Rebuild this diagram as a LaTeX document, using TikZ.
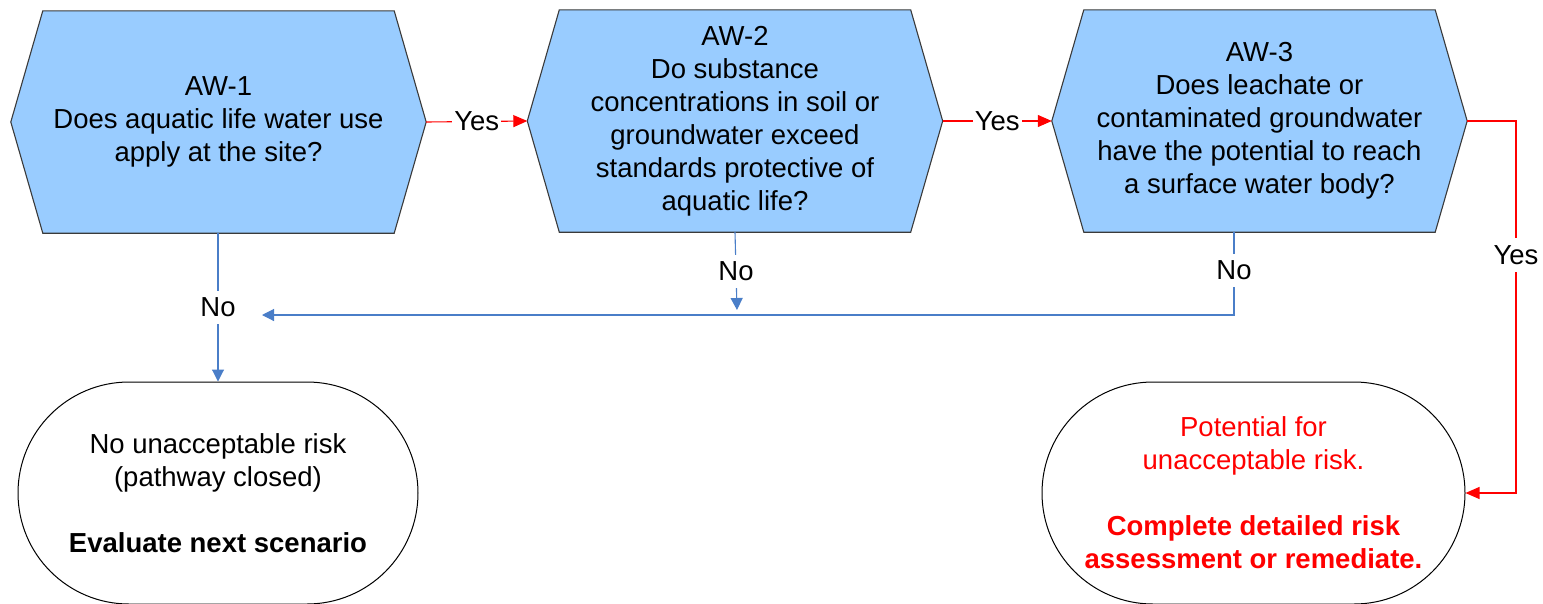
\documentclass[tikz,border=0pt]{standalone}
\usepackage{fontspec}
\setmainfont{Liberation Sans}
\usetikzlibrary{arrows.meta,backgrounds}
\definecolor{hexfill}{HTML}{99CCFF}
\definecolor{hexedge}{HTML}{3A3A3A}
\definecolor{noblue}{HTML}{4A7EC8}
\definecolor{yesred}{HTML}{FF0000}
\begin{document}
\begin{tikzpicture}[x=1pt,y=-1pt,
  font=\fontsize{27.5}{33}\selectfont,
  hexnode/.style={rectangle,minimum width=415pt,minimum height=222pt,inner sep=0pt,align=center},
  hexshape/.style={fill=hexfill,draw=hexedge,line width=1.1pt,line join=miter},
  term/.style={rectangle,draw=black,line width=1pt,rounded corners=111pt,minimum height=222pt,inner sep=0pt,align=center,fill=white},
  lbl/.style={fill=white,inner xsep=2pt,inner ysep=7pt,text=black},
  yesline/.style={draw=yesred,line width=1.1pt,-{Triangle[length=14pt,width=12pt]}},
  noline/.style={draw=noblue,line width=1.1pt,-{Triangle[length=12pt,width=12pt]}}]
\useasboundingbox (0,0) rectangle (1543,603);

\node[hexnode] (h1) at (218.5,122) {AW-1\\Does aquatic life water use\\apply at the site?};
\node[hexnode] (h2) at (735,121) {AW-2\\Do substance\\concentrations in soil or\\groundwater exceed\\standards protective of\\aquatic life?};
\node[hexnode] (h3) at (1259.5,121) {AW-3\\Does leachate or\\contaminated groundwater\\have the potential to reach\\a surface water body?};

\begin{scope}[on background layer]
\foreach \n in {h1,h2,h3}
  \draw[hexshape] (\n.west) -- ([xshift=32pt]\n.north west) -- ([xshift=-32pt]\n.north east) -- (\n.east) -- ([xshift=-32pt]\n.south east) -- ([xshift=32pt]\n.south west) -- cycle;
\end{scope}

\node[term,minimum width=400pt] (o1) at (218,493) {No unacceptable risk\\(pathway closed)\\[33pt]\textbf{Evaluate next scenario}};
\node[term,minimum width=423pt,text=yesred] (o2) at (1253.5,493) {Potential for\\unacceptable risk.\\[33pt]\textbf{Complete detailed risk}\\\textbf{assessment or remediate.}};

\coordinate (r1) at (1516,121);
\coordinate (r2) at (1516,493);
\coordinate (n2end) at (737,310);
\coordinate (n3a) at ([xshift=-25.5pt]h3.south);
\coordinate (n3b) at (1234,315);
\coordinate (n3end) at (262,315);

\draw[yesline] (h1.east) -- node[lbl]{Yes} (h2.west);
\draw[yesline] (h2.east) -- node[lbl]{Yes} (h3.west);
\draw[yesline] (h3.east) -- (r1) -- node[lbl,pos=0.36]{Yes} (r2) -- (o2.east);

\draw[noline] ([xshift=-0.5pt]h1.south) -- node[lbl]{No} (o1.north);
\draw[noline] (h2.south) -- node[lbl]{No} (n2end);
\draw[noline] (n3a) -- node[lbl,pos=0.46]{No} (n3b) -- (n3end);
\end{tikzpicture}
\end{document}
